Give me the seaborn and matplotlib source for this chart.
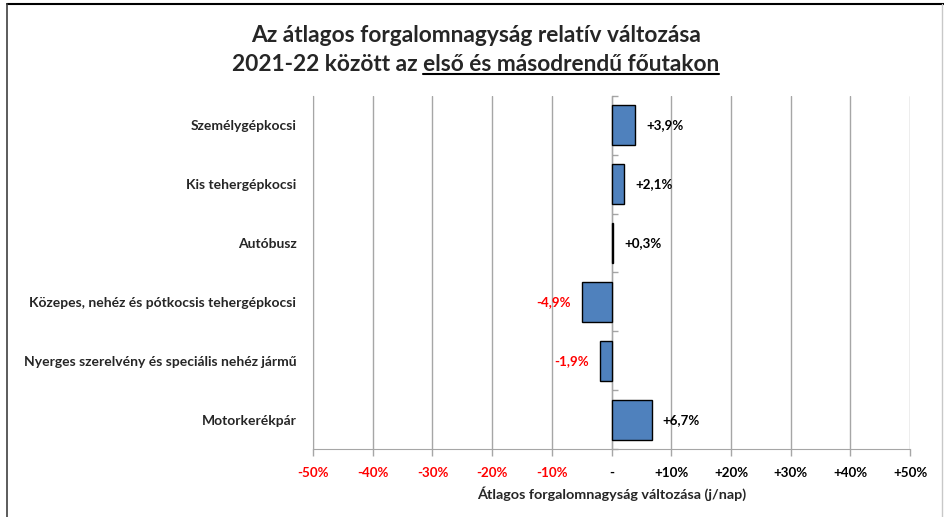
import numpy as np
import pandas as pd
import matplotlib
matplotlib.use('Agg')
import matplotlib.pyplot as plt
from matplotlib.lines import Line2D
import seaborn as sns

# data
categories = ['Személygépkocsi',
              'Kis tehergépkocsi',
              'Autóbusz',
              'Közepes, nehéz és pótkocsis tehergépkocsi',
              'Nyerges szerelvény és speciális nehéz jármű',
              'Motorkerékpár']
changes = [3.9, 2.1, 0.3, -4.9, -1.9, 6.7]
value_labels = ['+3,9%', '+2,1%', '+0,3%', '-4,9%', '-1,9%', '+6,7%']
x_ticks = [-50, -40, -30, -20, -10, 0, 10, 20, 30, 40, 50]
x_tick_labels = ['-50%', '-40%', '-30%', '-20%', '-10%', '-',
                 '+10%', '+20%', '+30%', '+40%', '+50%']

title_line1 = 'Az átlagos forgalomnagyság relatív változása'
title_prefix = '2021-22 között az '
title_underlined = 'első és másodrendű főutakon'
x_label = 'Átlagos forgalomnagyság változása (j/nap)'

BAR_COLOR = '#4F81BD'
GRID_COLOR = '#A6A6A6'
TITLE_SIZE = 16.4

sns.set_style('white')
plt.rcParams['font.family'] = ['Lato', 'DejaVu Sans']

df = pd.DataFrame({'category': categories, 'change': changes})

fig = plt.figure(figsize=(9.44, 5.17), dpi=100)
ax = fig.add_axes([0.3316, 0.1315, 0.6325, 0.683])

sns.barplot(data=df, x='change', y='category', orient='h', ax=ax,
            color=BAR_COLOR, saturation=1, width=0.68,
            edgecolor='black', linewidth=1)

ax.set_xlim(-50, 50)
ax.set_ylim(len(categories) - 0.5, -0.5)
ax.set_xticks(x_ticks)
ax.set_xticklabels(x_tick_labels, fontweight='bold', fontsize=9.6)
for lbl, t in zip(ax.get_xticklabels(), x_ticks):
    lbl.set_color('red' if t < 0 else 'black')
ax.tick_params(axis='x', direction='out', length=5, color=GRID_COLOR,
               width=1, bottom=True, pad=8)
ax.tick_params(axis='y', length=0, pad=12)
for lbl in ax.get_yticklabels():
    lbl.set_fontweight('bold')
    lbl.set_fontsize(10)

ax.set_xlabel(x_label, fontweight='bold', fontsize=10.4, labelpad=5)
ax.set_ylabel('')

# vertical grid lines
ax.grid(axis='x', color=GRID_COLOR, linewidth=1)
ax.grid(axis='y', visible=False)
ax.set_axisbelow(True)
for side in ['top', 'right']:
    ax.spines[side].set_visible(False)
ax.spines['left'].set_color(GRID_COLOR)
ax.spines['bottom'].set_color(GRID_COLOR)

# category axis at zero with boundary ticks
zero_axis = ax.secondary_yaxis(0.5)
zero_axis.set_yticks(np.arange(len(categories) + 1) - 0.5)
zero_axis.set_yticklabels([])
zero_axis.tick_params(direction='out', length=4, color=GRID_COLOR, width=1)
zero_axis.spines['left'].set_color('#808080')

# value labels
for i, (v, txt) in enumerate(zip(changes, value_labels)):
    if v >= 0:
        ax.annotate(txt, (v, i), xytext=(8, 0), textcoords='offset points',
                    ha='left', va='center', fontweight='bold', fontsize=9.6,
                    color='black')
    else:
        ax.annotate(txt, (v, i), xytext=(-8, 0), textcoords='offset points',
                    ha='right', va='center', fontweight='bold', fontsize=9.6,
                    color='red')

# title with underlined second part
fig.text(0.504, 0.932, title_line1, ha='center', va='center',
         fontsize=TITLE_SIZE, fontweight='bold')
t2 = fig.text(0.504, 0.876, title_prefix + title_underlined, ha='center',
              va='center', fontsize=TITLE_SIZE, fontweight='bold')
probe = fig.text(0, 0, title_underlined, fontsize=TITLE_SIZE, fontweight='bold',
                 alpha=0)
fig.canvas.draw()
renderer = fig.canvas.get_renderer()
bb = t2.get_window_extent(renderer)
pb = probe.get_window_extent(renderer)
W, H = fig.bbox.width, fig.bbox.height
x_start = (bb.x1 - pb.width) / W
x_end = bb.x1 / W
y_line = (bb.y0 + 1) / H
fig.add_artist(Line2D([x_start, x_end], [y_line, y_line], color='black',
                      linewidth=1.5, transform=fig.transFigure))
probe.remove()

# chart border
fig.add_artist(Line2D([7 / 944, 1], [1 - 4 / 517, 1 - 4 / 517], color='black',
                      linewidth=1.5, transform=fig.transFigure))
fig.add_artist(Line2D([7 / 944, 7 / 944], [0, 1 - 4 / 517], color='#404040',
                      linewidth=1.2, transform=fig.transFigure))
fig.add_artist(Line2D([942 / 944, 942 / 944], [0, 1 - 4 / 517], color='#C8C8C8',
                      linewidth=1, transform=fig.transFigure))

fig.savefig('out.png', dpi=100)
